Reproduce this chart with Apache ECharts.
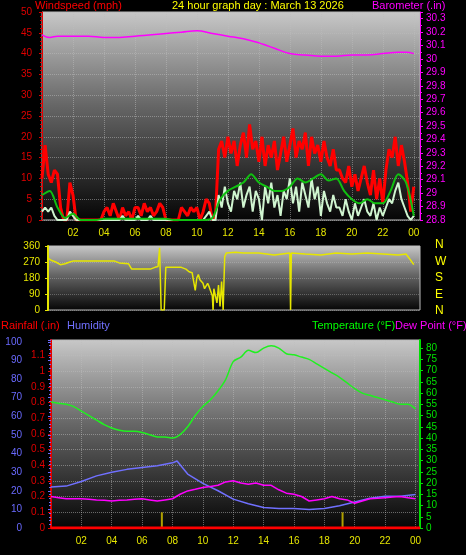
<!DOCTYPE html>
<html><head><meta charset="utf-8">
<script src="https://cdn.jsdelivr.net/npm/echarts@6/dist/echarts.min.js"></script>
<style>html,body{margin:0;background:#000}#c{width:466px;height:555px}</style>
</head><body><div id="c"></div>
<script>
// ---- data ----
const windStep = 0.2; // hours between samples
const windGust = [10,18,11,9,12,11, 3,0,0, 9,6, 0,0,0,0,0,0,0,0,0,
 2,3,1,4,2,0,3,1,2,0,3,3,1,4,2,3,1,2,4,3, 0,0,0,0,0, 3,2,1,3,2,3,0,2,5,4, 0,1,
 17,19,15,20,16,19,13,18,21,15,23,17,19,14,20,13,18,15,19,12,16,20,14,18,22,15,19,17,21,13,20,16,18,14,19,15,13,17,12,
 12,10,9,13,8,11,7,10,13,9, 6,12,5,10,4, 12,17,15,20,13,18,14,9, 2,8];
const windSpeed = [2,3,2,3,1,0, 0,0,0, 2,1, 0,0,0,0,0,0,0,0,0,
 0,0,0,0,0,0,1,0,0,0,0,1,0,0,0,1,0,0,0,0, 0,0,0,0,0, 0,0,0,0,0,0,0,0,1,2, 0,0,
 6,3,8,4,2,7,5,9,3,6,8,2,7,5,0,8,4,9,3,6,1,7,5,10,4,8,2,9,6,3,10,5,8,1,7,4,2,6,3,
 3,1,5,2,0,4,1,3,5,2, 1,4,0,3,1, 3,5,4,7,9,5,3,1, 0,1];
const avgStep = 0.5;
const windAvg = [6,7,3,0.5,1.5,0,0,0,0.3,0.3,0.3,0.3,0.3,0.3,0.3,0.3,0.3,0,0,0,0,0,0.5,
 5,7,8,9,11,9,8,7,7,8,10,9,10,11,9.5,10,7,5,4,5,4,4,7,11,9,1];
const baroTimes = [0,0.5,1,2,3,4,4.5,6,8,9,10,11,12,13,14,14.5,15,16,17,18,19,20,21,22,23,23.5,24];
const baroVals  = [30.18,30.16,30.17,30.17,30.17,30.16,30.16,30.17,30.19,30.2,30.21,30.19,30.17,30.15,30.12,30.1,30.08,30.04,30.03,30.02,30.02,30.03,30.03,30.04,30.05,30.05,30.04];
const dirTimes = [0,0.3,0.6,0.9,1.2,1.5,1.8,2,3,4,4.7,5,5.6,5.8,6.5,7,7.3,7.5,7.6,7.7,7.9,8.0,8.5,9,9.3,9.5,9.7,9.8,9.9,10,10.1,10.2,10.4,10.5,10.7,10.8,11,11.05,11.1,11.3,11.4,11.5,11.6,11.7,11.8,11.9,12.5,13,14,15,15.5,16,16.05,16.1,17,18,19,20,21,22,23,23.5,23.8,24];
const dirVals  = [290,300,280,270,255,260,270,275,275,275,275,265,260,230,230,230,240,245,350,0,0,240,240,240,230,215,210,160,110,180,200,170,150,120,150,130,80,0,120,40,140,20,160,0,300,320,325,320,320,310,315,320,0,320,315,310,320,315,320,315,310,315,280,255];
const thStep = 0.5;
const temperature = [56,55.5,55,54,52,50,48,46,44.5,43.5,43,43,42.5,41.5,40.5,40.5,40,41.5,45,50,54,57,61,66,74,76,79,78,80,81,80,77.5,77,76,75,73,71,69,67,64.5,62,60,59,58,57,56,55,55,53];
const dewPoint = [14,13.5,13,13,13,12.8,12.5,12.3,12,12.3,12.5,12.8,13,12.5,12,12.5,13,15,16.5,17.2,18,18.5,19,20.5,21,20,19.5,20,19,19,17,15.5,15,14,12,12.5,13,14,13,12.5,11,12,13,13.2,13.5,13.8,14,13.5,13];
const humTimes = [0,1,2,3,4,5,6,7,8,8.3,9,10,11,12,13,14,15,16,17,18,19,20,21,22,23,24];
const humVals  = [22,22.5,25,28,30,31.5,32.5,33.5,35,36,29,24,20,15.5,13,11,10.5,10.5,10,10.5,12,14,16,17,17,18];
const rainTimes = [0,24.3];
const rainVals = [0,0];
const markTimes = [7.3,19.2];
const markVals = [0.1,0.1];
const compass = ['N','W','S','E','N'];

// ---- helpers ----
const stepped = (arr, st) => arr.map((v,i)=>[+(i*st).toFixed(2), v]);
const paired = (ts, vs) => ts.map((t,i)=>[t, vs[i]]);
const hourFmt = v => v===0 ? '' : String(v%24).padStart(2,'0');
const numFmt = v => String(Number(v.toFixed(2)));
const bg = {type:'linear',x:0,y:0,x2:0,y2:1,colorStops:[{offset:0,color:'#c8c8c8'},{offset:0.45,color:'#666'},{offset:1,color:'#050505'}]};
const dotted = {lineStyle:{color:'rgba(190,190,190,0.5)',type:'dotted',width:1}};
const F = 'Liberation Sans';

const chart = echarts.init(document.getElementById('c'));
chart.setOption({
  backgroundColor:'#000',
  animation:false,
  textStyle:{fontFamily:F},
  grid:[
    {left:42,right:46,top:12,height:208,show:true,backgroundColor:bg,borderColor:'#bbb',borderWidth:1},
    {left:48,right:46,top:246,height:64,show:true,backgroundColor:bg,borderColor:'#bbb',borderWidth:1},
    {left:51,right:46,top:340,height:188,show:true,backgroundColor:bg,borderColor:'#bbb',borderWidth:1}
  ],
  xAxis:[
    {gridIndex:0,type:'value',min:0,max:24.4,interval:2,
     axisLabel:{color:'#e6e600',fontSize:10,formatter:hourFmt,margin:8,showMaxLabel:false},
     axisLine:{show:false},axisTick:{show:false},splitLine:dotted},
    {gridIndex:1,type:'value',min:0.4,max:24.4,interval:2,show:true,
     axisLabel:{show:false},axisLine:{show:false},axisTick:{show:false},splitLine:{show:false}},
    {gridIndex:2,type:'value',min:0,max:24.3,interval:2,
     axisLabel:{color:'#e6e600',fontSize:10,formatter:hourFmt,margin:8,showMaxLabel:false},
     axisLine:{show:false},axisTick:{show:false},splitLine:dotted}
  ],
  yAxis:[
    {gridIndex:0,type:'value',min:0,max:50,interval:5,position:'left',
     axisLabel:{color:'#e00000',fontSize:10,margin:10},
     axisLine:{show:true,lineStyle:{color:'#e00000'}},axisTick:{show:true,length:3,lineStyle:{color:'#e00000'}},
     minorTick:{show:true,splitNumber:5,length:2,lineStyle:{color:'#e00000'}},splitLine:dotted},
    {gridIndex:0,type:'value',min:28.8,max:30.35,interval:0.1,position:'right',
     axisLabel:{color:'#ff00ff',fontSize:10,formatter:numFmt,showMaxLabel:false,margin:6},
     axisLine:{show:true,lineStyle:{color:'#ff00ff'}},axisTick:{show:true,length:3,lineStyle:{color:'#ff00ff'}},
     minorTick:{show:true,splitNumber:2,length:2,lineStyle:{color:'#ff00ff'}},splitLine:{show:false}},
    {gridIndex:1,type:'value',min:0,max:360,interval:90,position:'left',
     axisLabel:{color:'#e6e600',fontSize:10,margin:8},
     axisLine:{show:true,lineStyle:{color:'#e6e600',width:2}},axisTick:{show:true,length:3,lineStyle:{color:'#e6e600'}},
     splitLine:{lineStyle:{color:'rgba(200,200,200,0.35)',type:'dotted'}}},
    {gridIndex:2,type:'value',min:0,max:101,interval:10,position:'left',offset:21,
     axisLabel:{color:'#6a6aff',fontSize:10,margin:8,formatter:v=>v>100?'':v},
     axisLine:{show:true,lineStyle:{color:'#6a6aff',width:2}},axisTick:{show:true,length:3,lineStyle:{color:'#6a6aff'}},
     minorTick:{show:true,splitNumber:5,length:2,lineStyle:{color:'#6a6aff'}},splitLine:{show:false}},
    {gridIndex:2,type:'value',min:0,max:1.2,interval:0.1,position:'left',
     axisLabel:{color:'#e00000',fontSize:10,formatter:numFmt,margin:6,showMaxLabel:false},
     axisLine:{show:true,lineStyle:{color:'#e00000',width:2}},axisTick:{show:true,length:3,lineStyle:{color:'#e00000'}},
     splitLine:dotted},
    {gridIndex:2,type:'value',min:0,max:83.6,interval:5,position:'right',
     axisLabel:{color:'#00e000',fontSize:10,margin:6,showMaxLabel:false},
     axisLine:{show:true,lineStyle:{color:'#00e000',width:2}},axisTick:{show:true,length:3,lineStyle:{color:'#00e000'}},
     splitLine:{show:false}}
  ],
  series:[
    {type:'line',xAxisIndex:0,yAxisIndex:0,data:stepped(windGust,windStep),showSymbol:false,lineStyle:{color:'#ff0000',width:3},z:2},
    {type:'line',xAxisIndex:0,yAxisIndex:0,data:stepped(windSpeed,windStep),showSymbol:false,lineStyle:{color:'#d0f5d0',width:2},z:3},
    {type:'line',xAxisIndex:0,yAxisIndex:0,data:stepped(windAvg,avgStep),showSymbol:false,smooth:0.3,lineStyle:{color:'#10c010',width:2},z:4},
    {type:'line',xAxisIndex:0,yAxisIndex:1,data:paired(baroTimes,baroVals),showSymbol:false,smooth:0.4,lineStyle:{color:'#ff00ff',width:1.5},z:4},
    {type:'line',xAxisIndex:1,yAxisIndex:2,data:paired(dirTimes,dirVals),showSymbol:false,lineStyle:{color:'#e6e600',width:1.5}},
    {type:'line',xAxisIndex:2,yAxisIndex:4,data:paired(rainTimes,rainVals),showSymbol:false,lineStyle:{color:'#ff0000',width:3},z:5},
    {type:'bar',xAxisIndex:2,yAxisIndex:4,data:paired(markTimes,markVals),barWidth:2,itemStyle:{color:'#b0a000'}},
    {type:'line',xAxisIndex:2,yAxisIndex:3,data:paired(humTimes,humVals),showSymbol:false,lineStyle:{color:'#7070ff',width:1.5}},
    {type:'line',xAxisIndex:2,yAxisIndex:5,data:stepped(dewPoint,thStep),showSymbol:false,lineStyle:{color:'#ff00ff',width:1.5}},
    {type:'line',xAxisIndex:2,yAxisIndex:5,data:stepped(temperature,thStep),showSymbol:false,smooth:0.3,lineStyle:{color:'#20f020',width:1.5}}
  ],
  graphic:[
    {type:'text',left:35,top:0,style:{text:'Windspeed (mph)',fill:'#ff0000',font:'11px '+F}},
    {type:'text',left:172,top:0,style:{text:'24 hour graph day : March 13 2026',fill:'#ffff00',font:'11px '+F}},
    {type:'text',left:372,top:0,style:{text:'Barometer (.in)',fill:'#ff00ff',font:'11px '+F}},
    ...compass.map((c,i)=>({type:'text',left:435,top:239+i*16.5,style:{text:c,fill:'#ffff00',font:'12px '+F}})),
    {type:'text',left:1,top:320,style:{text:'Rainfall (.in)',fill:'#ff0000',font:'11px '+F}},
    {type:'text',left:67,top:320,style:{text:'Humidity',fill:'#7070ff',font:'11px '+F}},
    {type:'text',left:312,top:320,style:{text:'Temperature (°F)',fill:'#00ff00',font:'11px '+F}},
    {type:'text',left:395,top:320,style:{text:'Dew Point (°F)',fill:'#ff00ff',font:'11px '+F}}
  ]
});
</script></body></html>
